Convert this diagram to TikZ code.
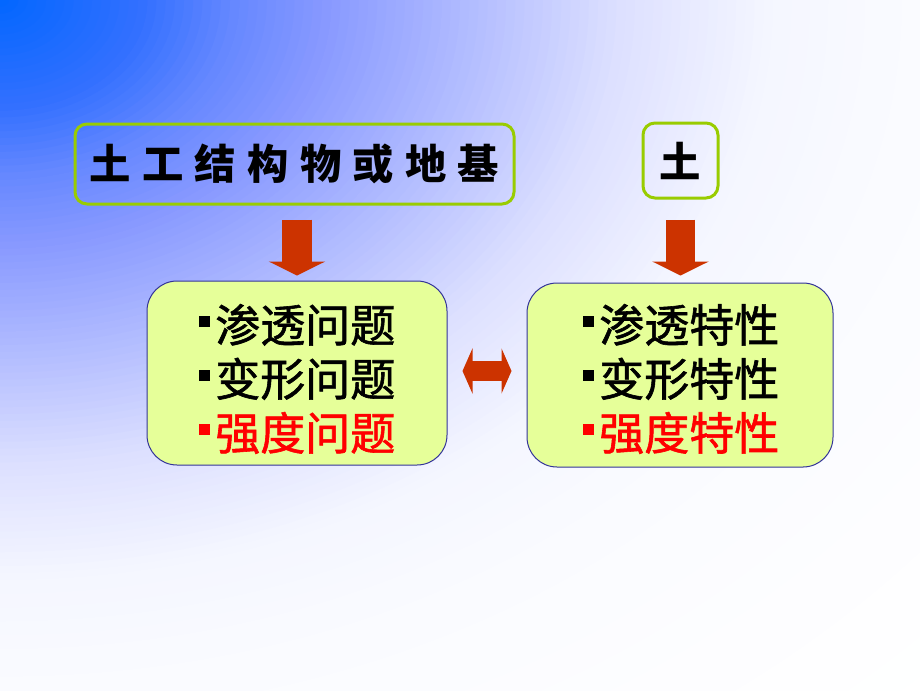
\documentclass[tikz,border=0pt]{standalone}
\usepackage{fontspec}
\newfontfamily\cjk{Noto Sans CJK SC}
\newfontfamily\cjkm[FakeBold=1.3]{Noto Sans CJK SC}
\usetikzlibrary{arrows.meta}
\definecolor{bgA}{HTML}{0066FF}
\definecolor{bgB}{HTML}{3370FF}
\definecolor{bgC}{HTML}{6688FF}
\definecolor{bgD}{HTML}{8899FF}
\definecolor{bgE}{HTML}{A8B4FF}
\definecolor{bgF}{HTML}{DDE0FF}
\definecolor{bgG}{HTML}{F4F6FF}
\definecolor{bgH}{HTML}{FAFBFF}
\definecolor{lime}{HTML}{99CC00}
\definecolor{boxfill}{HTML}{E6FF99}
\definecolor{boxline}{HTML}{333399}
\definecolor{arrowred}{HTML}{CC3300}
\definecolor{txtred}{HTML}{FF0000}
\newcommand\bul{\rule[11.6pt]{8.25pt}{8.25pt}\hspace{3.75pt}}
\newcommand\bigfont{\cjkm\fontsize{33.75pt}{40pt}\selectfont}
\newcommand\topfont{\cjk\bfseries\fontsize{31pt}{32pt}\selectfont}
\newcommand\gap{\hspace{8.4pt}}
\tikzset{
  topbox/.style={draw=lime, line width=2.25pt, rounded corners=9pt, inner sep=0pt},
  lowbox/.style={draw=boxline, fill=boxfill, line width=0.75pt, rounded corners=22.5pt,
    minimum height=138pt, inner sep=0pt},
  line/.style={anchor=base west, inner sep=0pt, font=\bigfont},
  bigarrow/.style={draw=arrowred, line width=22pt,
    -{Triangle[width=42pt,length=10.5pt,fill=arrowred]}},
  dblarrow/.style={draw=arrowred, line width=15pt,
    {Triangle[width=33.75pt,length=7.5pt,fill=arrowred]}-{Triangle[width=33.75pt,length=7.5pt,fill=arrowred]}}
}
\begin{document}
\begin{tikzpicture}[x=0.75pt,y=-0.75pt]
\useasboundingbox (0,0) rectangle (920,690);
\begin{scope}
  \clip (0,0) rectangle (920,690);
  \fill[white] (0,0) rectangle (920,690);
  \foreach \ra/\rb/\ca/\cb/\st in {50/72/bgH/white/2, 42/50/bgG/bgH/1, 34/42/bgF/bgG/0.5,
      24/34/bgE/bgF/0.5, 18/24/bgD/bgE/0.5, 13/18/bgC/bgD/0.5, 8/13/bgB/bgC/0.5, 0/8/bgA/bgB/0.5}{
    \pgfmathsetmacro\nsteps{int(round((\rb-\ra)/\st))}
    \foreach \k in {0,...,\nsteps}{
      \pgfmathsetmacro\r{\rb-\k*\st}
      \ifdim\r pt>0pt
      \pgfmathsetmacro\p{(\rb-\r)/(\rb-\ra)*100}
      \fill[\ca!\p!\cb] (0,0) ellipse [x radius={18.4*\r}, y radius={13.8*\r}];
      \fi
    }
  }
\end{scope}

\node[topbox, minimum width=329.25pt, minimum height=60pt] (tl) at (294.5,164)
  {\raisebox{-3pt}{\topfont 土\gap 工\gap 结\gap 构\gap 物\gap 或\gap 地\gap 基}};
\node[topbox, minimum width=56.25pt, minimum height=56.25pt] (tr) at (680.5,160.5)
  {\raisebox{-2.6pt}{\topfont 土}};

\node[lowbox, minimum width=225pt] (lb) at (297,373) {};
\node[lowbox, minimum width=229.5pt] (rb) at (680,375) {};

\node[line] (l1) at (199,342) {\bul 渗透问题};
\node[line] (l2) at (199,396) {\bul 变形问题};
\node[line, text=txtred] (l3) at (199,450) {\bul 强度问题};
\node[line] (r1) at (583,342) {\bul 渗透特性};
\node[line] (r2) at (583,396) {\bul 变形特性};
\node[line, text=txtred] (r3) at (583,450) {\bul 强度特性};

\draw[bigarrow, shorten <=10.5pt, shorten >=3.75pt] (lb.north |- tl.south) -- (lb.north);
\draw[bigarrow, shorten <=15pt, shorten >=5.25pt] (tr.south) -- (tr.south |- rb.north);
\draw[dblarrow, shorten <=11.25pt, shorten >=11.25pt] ([yshift=1.5pt]lb.east) -- ([yshift=1.5pt]lb.east -| rb.west);
\end{tikzpicture}
\end{document}
